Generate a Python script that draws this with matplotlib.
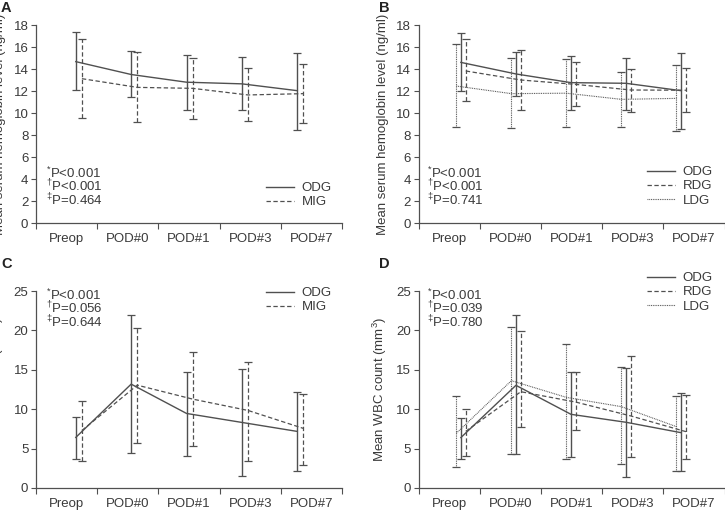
import matplotlib
matplotlib.use("Agg")
import matplotlib.pyplot as plt
from matplotlib.lines import Line2D
import numpy as np

plt.rcParams['font.family'] = ['Liberation Sans', 'DejaVu Sans']
plt.rcParams['mathtext.fontset'] = 'custom'
plt.rcParams['mathtext.rm'] = 'Liberation Sans'
plt.rcParams['mathtext.it'] = 'Liberation Sans'

categories = ['Preop', 'POD#0', 'POD#1', 'POD#3', 'POD#7']

# Panel A: hemoglobin, ODG vs MIG
a_odg_mean = [14.67, 13.5, 12.8, 12.65, 12.03]
a_odg_up = [17.33, 15.6, 15.24, 15.05, 15.48]
a_odg_lo = [12.05, 11.5, 10.27, 10.24, 8.48]
a_mig_mean = [13.12, 12.33, 12.24, 11.64, 11.76]
a_mig_up = [16.76, 15.52, 15.0, 14.09, 14.42]
a_mig_lo = [9.58, 9.15, 9.45, 9.27, 9.06]

# Panel B: hemoglobin, ODG / RDG / LDG
b_odg_mean = [14.6, 13.55, 12.76, 12.7, 12.03]
b_odg_up = [17.3, 15.52, 15.21, 15.03, 15.42]
b_odg_lo = [12.03, 11.52, 10.27, 10.27, 8.55]
b_rdg_mean = [13.82, 13.0, 12.6, 12.09, 12.07]
b_rdg_up = [16.73, 15.73, 14.67, 13.97, 14.12]
b_rdg_lo = [11.09, 10.3, 10.64, 10.09, 10.12]
b_ldg_mean = [12.45, 11.76, 11.8, 11.24, 11.33]
b_ldg_up = [16.27, 15.0, 14.9, 13.73, 14.36]
b_ldg_lo = [8.76, 8.64, 8.73, 8.7, 8.39]

# Panel C: WBC, ODG vs MIG
c_odg_mean = [6.42, 13.18, 9.46, 8.32, 7.18]
c_odg_up = [8.95, 21.9, 14.78, 15.12, 12.12]
c_odg_lo = [3.72, 4.39, 4.05, 1.52, 2.2]
c_mig_mean = [7.3, 13.05, 11.28, 9.84, 7.56]
c_mig_up = [10.98, 20.3, 17.27, 16.05, 11.87]
c_mig_lo = [3.38, 5.74, 5.28, 3.46, 2.96]

# Panel D: WBC, ODG / RDG / LDG
d_odg_mean = [6.4, 13.03, 9.35, 8.34, 7.02]
d_odg_up = [8.84, 21.95, 14.72, 15.19, 12.1]
d_odg_lo = [3.68, 4.31, 3.93, 1.44, 2.16]
d_rdg_mean = [7.2, 12.22, 10.9, 9.14, 7.15]
d_rdg_up = [9.98, 19.88, 14.72, 16.75, 11.8]
d_rdg_lo = [4.06, 7.7, 7.36, 3.98, 3.68]
d_ldg_mean = [6.95, 13.62, 11.5, 10.32, 7.78]
d_ldg_up = [11.71, 20.47, 18.23, 15.36, 11.68]
d_ldg_lo = [2.62, 4.31, 3.68, 3.05, 2.16]

pvals_a = ['$^{*}$P<0.001', '$^{\\dagger}$P<0.001', '$^{\\ddagger}$P=0.464']
pvals_b = ['$^{*}$P<0.001', '$^{\\dagger}$P<0.001', '$^{\\ddagger}$P=0.741']
pvals_c = ['$^{*}$P<0.001', '$^{\\dagger}$P=0.056', '$^{\\ddagger}$P=0.644']
pvals_d = ['$^{*}$P<0.001', '$^{\\dagger}$P=0.039', '$^{\\ddagger}$P=0.780']

LC = '#505050'
TC = '#3a3a3a'
styles = {
    'ODG': '-',
    'MIG': (0, (3.5, 2.0)),
    'RDG': (0, (3.5, 2.0)),
    'LDG': (0, (0.8, 0.8)),
}
lws = {'ODG': 1.0, 'MIG': 0.9, 'RDG': 0.9, 'LDG': 0.8}

W, H = 725, 512
fig = plt.figure(figsize=(W / 100, H / 100), dpi=100)


def px_axes(l, r, top, bot):
    return fig.add_axes([l / W, 1 - bot / H, (r - l) / W, (bot - top) / H])


def draw(ax, series, ymax, ystep, ylabel, pvals, ptxt_xy, leg_xy, letter):
    n = len(categories)
    handles = []
    for name, xs, mean, up, lo in series:
        mean = np.asarray(mean)
        yerr = [mean - np.asarray(lo), np.asarray(up) - mean]
        ln, caps, bars = ax.errorbar(xs, mean, yerr=yerr, color=LC,
                                     lw=lws[name], capsize=3.2, capthick=0.9,
                                     elinewidth=lws[name])
        ln.set_linestyle(styles[name])
        for b in bars:
            b.set_linestyle(styles[name])
        handles.append(Line2D([], [], color=LC, lw=lws[name],
                              linestyle=styles[name], label=name))
    ax.set_xlim(0, n)
    ax.set_ylim(0, ymax)
    ax.set_yticks(np.arange(0, ymax + 0.01, ystep))
    ax.set_xticks(np.arange(0, n + 1))
    ax.set_xticklabels([])
    ax.set_xticks(np.arange(n) + 0.5, minor=True)
    ax.set_xticklabels(categories, minor=True)
    ax.tick_params(axis='x', which='major', length=4, width=0.8, color=LC, direction='out')
    ax.tick_params(axis='x', which='minor', length=0, pad=7, labelsize=9.5, labelcolor=TC)
    ax.tick_params(axis='y', length=3.5, width=0.8, color=LC, labelsize=9.5,
                   labelcolor=TC, pad=2)
    for s in ['top', 'right']:
        ax.spines[s].set_visible(False)
    for s in ['left', 'bottom']:
        ax.spines[s].set_color(LC)
        ax.spines[s].set_linewidth(0.9)
    ax.set_ylabel(ylabel, fontsize=9.5, color=TC)
    ax.yaxis.set_label_coords(-29.5 / 306, 0.5)
    for i, t in enumerate(pvals):
        fig.text(ptxt_xy[0] / W, 1 - (ptxt_xy[1] + i * 13.5) / H, t,
                 fontsize=9.5, color=TC, va='center', ha='left')
    leg = ax.legend(handles=handles, loc='upper left',
                    bbox_to_anchor=(leg_xy[0] / W, 1 - leg_xy[1] / H),
                    bbox_transform=fig.transFigure, frameon=False, fontsize=9.5,
                    handlelength=2.1, handletextpad=0.6, labelspacing=0.15,
                    borderpad=0, borderaxespad=0)
    for t in leg.get_texts():
        t.set_color(TC)
    fig.text(letter[1] / W, 1 - letter[2] / H, letter[0], fontsize=10.5,
             fontweight='bold', color='#222222', va='center', ha='left')


idx = np.arange(len(categories))
xa_odg = 0.65 + 0.905 * idx
xa_mig = xa_odg + 0.1
xb_odg = 0.69 + 0.9 * idx
xb_ldg = xb_odg - 0.075
xb_rdg = xb_odg + 0.08

axA = px_axes(36, 342, 25, 223)
draw(axA, [('ODG', xa_odg, a_odg_mean, a_odg_up, a_odg_lo),
           ('MIG', xa_mig, a_mig_mean, a_mig_up, a_mig_lo)],
     18, 2, 'Mean serum hemoglobin level (ng/ml)', pvals_a, (46, 173), (266, 182),
     ('A', 1, 8))

axB = px_axes(418.7, 724.5, 25, 223)
draw(axB, [('ODG', xb_odg, b_odg_mean, b_odg_up, b_odg_lo),
           ('RDG', xb_rdg, b_rdg_mean, b_rdg_up, b_rdg_lo),
           ('LDG', xb_ldg, b_ldg_mean, b_ldg_up, b_ldg_lo)],
     18, 2, 'Mean serum hemoglobin level (ng/ml)', pvals_b, (427, 173), (647, 166),
     ('B', 379, 8))

axC = px_axes(36, 342, 291, 488)
draw(axC, [('ODG', xa_odg, c_odg_mean, c_odg_up, c_odg_lo),
           ('MIG', xa_mig, c_mig_mean, c_mig_up, c_mig_lo)],
     25, 5, 'Mean WBC count (mm$^{3}$)', pvals_c, (46, 295), (266, 287),
     ('C', 1, 264))

axD = px_axes(418.7, 724.5, 291, 488)
draw(axD, [('ODG', xb_odg, d_odg_mean, d_odg_up, d_odg_lo),
           ('RDG', xb_rdg, d_rdg_mean, d_rdg_up, d_rdg_lo),
           ('LDG', xb_ldg, d_ldg_mean, d_ldg_up, d_ldg_lo)],
     25, 5, 'Mean WBC count (mm$^{3}$)', pvals_d, (427, 295), (647, 272),
     ('D', 379, 264))

fig.savefig('out.png', dpi=100)
